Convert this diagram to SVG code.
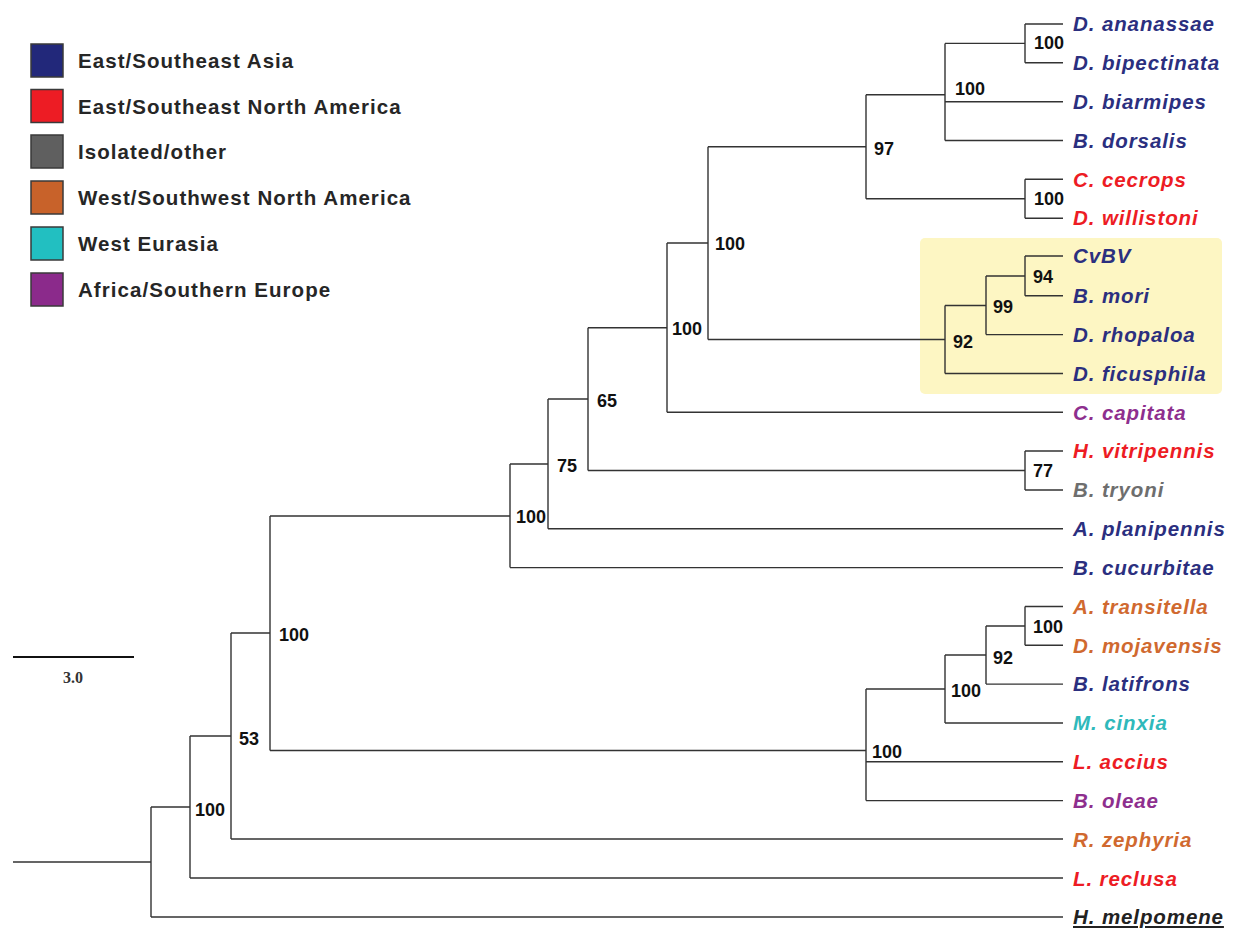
<svg xmlns="http://www.w3.org/2000/svg" width="1233" height="928" viewBox="0 0 1233 928">
<style>
.lg{font-family:"Liberation Sans",Arial,sans-serif;font-weight:bold;font-size:20.5px;letter-spacing:1.05px;fill:#262626}
.box{stroke:#3a3a3a;stroke-width:1.5}
.sp{font-family:"Liberation Sans",Arial,sans-serif;font-weight:bold;font-style:italic;font-size:20.5px;letter-spacing:0.9px}
.bs{font-family:"Liberation Sans",Arial,sans-serif;font-weight:bold;font-size:18px;fill:#111}
.asia{fill:#2b2f7f}.red{fill:#ed1c24}.gray{fill:#6e6e6e}.org{fill:#d0692f}.teal{fill:#2fb9bb}.pur{fill:#8e2f8e}
#edges path{fill:none;stroke:#333;stroke-width:1.4}
</style>
<rect width="1233" height="928" fill="#fff"/>
<g id="legend">
<rect class="box" x="31" y="44" width="32" height="33" fill="#22287a"/>
<text class="lg" x="78" y="68">East/Southeast Asia</text>
<rect class="box" x="31" y="89.5" width="32" height="33" fill="#ed1c24"/>
<text class="lg" x="78" y="113.5">East/Southeast North America</text>
<rect class="box" x="31" y="135" width="32" height="33" fill="#5f5f5f"/>
<text class="lg" x="78" y="159">Isolated/other</text>
<rect class="box" x="31" y="181" width="32" height="33" fill="#c8622a"/>
<text class="lg" x="78" y="205">West/Southwest North America</text>
<rect class="box" x="31" y="227" width="32" height="33" fill="#22bfc1"/>
<text class="lg" x="78" y="251">West Eurasia</text>
<rect class="box" x="31" y="273" width="32" height="33" fill="#8b2a8b"/>
<text class="lg" x="78" y="297">Africa/Southern Europe</text>
</g>
<g id="scale">
<line x1="13" y1="657" x2="134" y2="657" stroke="#111" stroke-width="2.2"/>
<text x="73" y="683" text-anchor="middle" font-family="Liberation Serif,serif" font-weight="bold" font-size="16" fill="#333">3.0</text>
</g>
<rect id="highlight" x="920" y="238" width="302" height="156" rx="5" fill="#fdf6c3"/>
<g id="edges">
<path d="M13,862 H151 M151,807 V917 M151,807 H190 M151,917 H1063"/>
<path d="M190,736 V878 M190,736 H231 M190,878 H1063"/>
<path d="M231,633 V839 M231,633 H270 M231,839 H1063"/>
<path d="M270,516 V750.5 M270,516 H510 M270,750.5 H866"/>
<path d="M510,464 V567.6 M510,464 H548 M510,567.6 H1063"/>
<path d="M548,399 V528.8 M548,399 H588 M548,528.8 H1063"/>
<path d="M588,327.7 V470.5 M588,327.7 H667 M588,470.5 H1025"/>
<path d="M1025,451 V490 M1025,451 H1063 M1025,490 H1063"/>
<path d="M667,243 V412.3 M667,243 H708 M667,412.3 H1063"/>
<path d="M708,146.7 V339.5 M708,146.7 H866 M708,339.5 H945"/>
<path d="M866,94.7 V198.7 M866,94.7 H945 M866,198.7 H1025"/>
<path d="M945,43.4 V140.5 M945,43.4 H1025 M945,101.7 H1063 M945,140.5 H1063"/>
<path d="M1025,24 V62.8 M1025,24 H1063 M1025,62.8 H1063"/>
<path d="M1025,179.3 V218.2 M1025,179.3 H1063 M1025,218.2 H1063"/>
<path d="M945,305.5 V373.5 M945,305.5 H986 M945,373.5 H1063"/>
<path d="M986,276 V334.6 M986,276 H1025 M986,334.6 H1063"/>
<path d="M1025,256 V295.8 M1025,256 H1063 M1025,295.8 H1063"/>
<path d="M866,689 V800.6 M866,689 H945 M866,761.8 H1063 M866,800.6 H1063"/>
<path d="M945,655 V723 M945,655 H986 M945,723 H1063"/>
<path d="M986,626 V684.1 M986,626 H1025 M986,684.1 H1063"/>
<path d="M1025,606.5 V645.3 M1025,606.5 H1063 M1025,645.3 H1063"/>
</g>
<g id="leaves">
<g id="leaf-ananassae"><text class="sp asia" x="1073" y="31">D. ananassae</text></g>
<g id="leaf-bipectinata"><text class="sp asia" x="1073" y="70">D. bipectinata</text></g>
<g id="leaf-biarmipes"><text class="sp asia" x="1073" y="109">D. biarmipes</text></g>
<g id="leaf-dorsalis"><text class="sp asia" x="1073" y="147.5">B. dorsalis</text></g>
<g id="leaf-cecrops"><text class="sp red" x="1073" y="186.5">C. cecrops</text></g>
<g id="leaf-willistoni"><text class="sp red" x="1073" y="225">D. willistoni</text></g>
<g id="leaf-cvbv"><text class="sp asia" x="1073" y="263" font-style="normal">CvBV</text></g>
<g id="leaf-mori"><text class="sp asia" x="1073" y="303">B. mori</text></g>
<g id="leaf-rhopaloa"><text class="sp asia" x="1073" y="341.5">D. rhopaloa</text></g>
<g id="leaf-ficusphila"><text class="sp asia" x="1073" y="380.5">D. ficusphila</text></g>
<g id="leaf-capitata"><text class="sp pur" x="1073" y="419.5">C. capitata</text></g>
<g id="leaf-vitripennis"><text class="sp red" x="1073" y="458">H. vitripennis</text></g>
<g id="leaf-tryoni"><text class="sp gray" x="1073" y="497">B. tryoni</text></g>
<g id="leaf-planipennis"><text class="sp asia" x="1073" y="536">A. planipennis</text></g>
<g id="leaf-cucurbitae"><text class="sp asia" x="1073" y="574.5">B. cucurbitae</text></g>
<g id="leaf-transitella"><text class="sp org" x="1073" y="613.5">A. transitella</text></g>
<g id="leaf-mojavensis"><text class="sp org" x="1073" y="652.5">D. mojavensis</text></g>
<g id="leaf-latifrons"><text class="sp asia" x="1073" y="691">B. latifrons</text></g>
<g id="leaf-cinxia"><text class="sp teal" x="1073" y="730">M. cinxia</text></g>
<g id="leaf-accius"><text class="sp red" x="1073" y="769">L. accius</text></g>
<g id="leaf-oleae"><text class="sp pur" x="1073" y="807.5">B. oleae</text></g>
<g id="leaf-zephyria"><text class="sp org" x="1073" y="846.5">R. zephyria</text></g>
<g id="leaf-reclusa"><text class="sp red" x="1073" y="885.5">L. reclusa</text></g>
<g id="leaf-melpomene"><text class="sp" x="1073" y="924" fill="#222" text-decoration="underline" letter-spacing="1.2">H. melpomene</text></g>
</g>
<g id="support">
<g id="n-A"><text class="bs" x="195" y="816">100</text></g>
<g id="n-B"><text class="bs" x="239" y="745">53</text></g>
<g id="n-C"><text class="bs" x="279" y="641">100</text></g>
<g id="n-D"><text class="bs" x="516" y="523">100</text></g>
<g id="n-I"><text class="bs" x="557" y="472">75</text></g>
<g id="n-J"><text class="bs" x="597" y="407">65</text></g>
<g id="n-L"><text class="bs" x="1033" y="477">77</text></g>
<g id="n-K"><text class="bs" x="672" y="335">100</text></g>
<g id="n-M"><text class="bs" x="715" y="250">100</text></g>
<g id="n-O"><text class="bs" x="874" y="155">97</text></g>
<g id="n-Q"><text class="bs" x="955" y="95">100</text></g>
<g id="n-S"><text class="bs" x="1034" y="49">100</text></g>
<g id="n-R"><text class="bs" x="1034" y="205">100</text></g>
<g id="n-P"><text class="bs" x="953" y="348">92</text></g>
<g id="n-T"><text class="bs" x="993" y="313">99</text></g>
<g id="n-U"><text class="bs" x="1033" y="283">94</text></g>
<g id="n-E"><text class="bs" x="872" y="758">100</text></g>
<g id="n-F"><text class="bs" x="951" y="697">100</text></g>
<g id="n-G"><text class="bs" x="993" y="664">92</text></g>
<g id="n-H"><text class="bs" x="1033" y="633">100</text></g>
</g>
</svg>
